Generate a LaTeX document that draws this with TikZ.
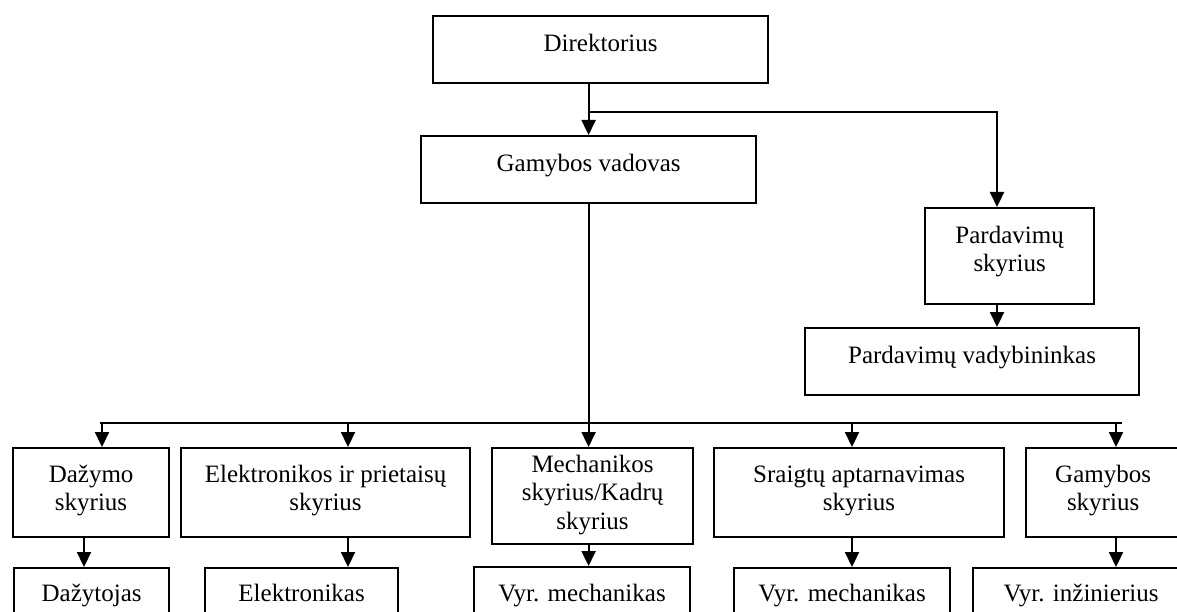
\documentclass[tikz,border=0pt]{standalone}
\usepackage{fontspec}
\setmainfont{Liberation Serif}
\usetikzlibrary{arrows.meta}
% box content: width, height, first-line height, text (top aligned, centred)
\newcommand{\orgtext}[4]{\parbox[t][#2pt][t]{#1pt}{\centering\rule{0pt}{#3pt}#4}}
\tikzset{
  orgbox/.style={draw, line width=2.2pt, inner sep=0pt, anchor=north west,
                 font=\fontsize{25}{28.5}\selectfont},
  link/.style={line width=2.2pt},
  arr/.style={link, -{Triangle[length=15pt,width=14pt]}},
}
\begin{document}
\begin{tikzpicture}[x=1pt,y=-1pt]
\useasboundingbox (0,0) rectangle (1177,612);
\clip (0,0) rectangle (1177,612);

% management
\node[orgbox] (dir) at (432,15)  {\orgtext{335}{67}{35}{Direktorius}};
\node[orgbox] (gv)  at (420,135) {\orgtext{335}{67}{35}{Gamybos vadovas}};
\node[orgbox] (ps)  at (924,207) {\orgtext{169}{96}{35}{Pardavimų\\skyrius}};
\node[orgbox] (pv)  at (804,327) {\orgtext{334}{67}{35}{Pardavimų vadybininkas}};

% departments
\node[orgbox] (d1) at (12,447)   {\orgtext{156}{89}{34}{Dažymo\\skyrius}};
\node[orgbox] (e1) at (180,447)  {\orgtext{289}{89}{34}{Elektronikos ir prietaisų\\skyrius}};
\node[orgbox] (m1) at (491,447)  {\orgtext{201}{96}{24}{Mechanikos\\skyrius/Kadrų\\skyrius}};
\node[orgbox] (s1) at (713,447)  {\orgtext{290}{89}{34}{Sraigtų aptarnavimas\\skyrius}};
\node[orgbox] (g1) at (1025,447) {\orgtext{154}{89}{34}{Gamybos\\skyrius}};

% staff
\node[orgbox] (d2) at (13,567)  {\orgtext{155}{67}{33}{Dažytojas}};
\node[orgbox] (e2) at (204,567) {\orgtext{193}{67}{33}{Elektronikas}};
\node[orgbox] (m2) at (473,566) {\orgtext{216}{67}{34}{Vyr. mechanikas}};
\node[orgbox] (s2) at (733,567) {\orgtext{216}{67}{33}{Vyr. mechanikas}};
\node[orgbox] (g2) at (972,567) {\orgtext{216}{67}{33}{Vyr. inžinierius}};

% top branch
\coordinate (j1) at (588,112);
\coordinate (p1) at (997,112);
\draw[arr] (gv.north |- dir.south) -- (gv.north);
\draw[arr] (j1) -- (p1) -- (p1 |- ps.north);
\draw[arr] (p1 |- ps.south) -- (p1 |- pv.north);

% department bus
\coordinate (busL) at (100,423);
\coordinate (busR) at (1122,423);
\coordinate (b1) at (102,423);
\coordinate (b2) at (348,423);
\coordinate (b4) at (852,423);
\coordinate (b5) at (1116,423);
\draw[link] (busL) -- (busR);
\draw[arr] (gv.south) -- (gv.south |- m1.north);
\draw[arr] (b1) -- (b1 |- d1.north);
\draw[arr] (b2) -- (b2 |- e1.north);
\draw[arr] (b4) -- (b4 |- s1.north);
\draw[arr] (b5) -- (b5 |- g1.north);

% department to staff
\coordinate (c1) at (84,0);
\draw[arr] (c1 |- d1.south) -- (c1 |- d2.north);
\draw[arr] (b2 |- e1.south) -- (b2 |- e2.north);
\draw[arr] (gv.south |- m1.south) -- (gv.south |- m2.north);
\draw[arr] (b4 |- s1.south) -- (b4 |- s2.north);
\draw[arr] (b5 |- g1.south) -- (b5 |- g2.north);
\end{tikzpicture}
\end{document}
